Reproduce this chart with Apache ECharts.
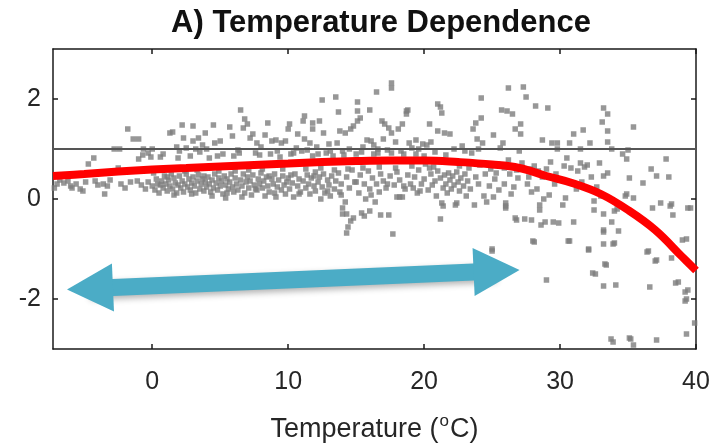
<!DOCTYPE html>
<html>
<head>
<meta charset="utf-8">
<script src="https://cdn.jsdelivr.net/npm/echarts@6/dist/echarts.min.js"></script>
<style>
  html, body { margin: 0; padding: 0; background: #fff; }
  #chart { width: 715px; height: 446px; }
</style>
</head>
<body>
<div id="chart"></div>
<script>
// axis ticks
const xTickVals = [0, 10, 20, 30, 40];
const yTickVals = [-2, 0, 2];

// fitted temperature response (red curve)
const fitTemp = [-7.3, -5, -2.5, 0, 2.5, 5, 7.5, 10, 12.5, 15, 17.5, 20, 22.5, 25, 27, 29, 31, 33, 35, 37, 39, 40];
const fitEffect = [0.46, 0.5, 0.55, 0.59, 0.62, 0.65, 0.68, 0.71, 0.74, 0.76, 0.77, 0.77, 0.74, 0.69, 0.62, 0.46, 0.31, 0.1, -0.22, -0.62, -1.16, -1.43];

// reference level (grey horizontal line)
const refLevel = 1;

// double arrow ends (temperature, effect)
const arrowTemp = [-4.58, 25.33];
const arrowEffect = [-1.79, -1.44];

// observations [temperature, effect]
const obsPoints = [
  [-7.2,0.22],[-7.0,0.3],[-6.8,0.38],[-6.5,0.32],[-6.2,0.36],[-6.0,0.26],[-5.9,0.22],[-5.6,0.3],[-5.3,0.2],[-5.1,0.16],
  [-4.9,0.34],[-4.7,0.7],[-4.3,0.82],[-4.2,0.36],[-4.0,0.28],[-3.6,0.3],[-3.5,0.1],[-3.3,0.26],[-3.1,0.38],[-2.8,1.0],
  [-2.5,0.62],[-2.4,1.0],[-2.3,0.3],[-2.0,0.22],[-1.8,1.4],[-1.6,0.34],[-1.4,1.2],[-1.1,0.36],[-1.0,1.2],[-1.0,0.8],
  [-0.8,0.28],[-0.7,0.88],[-0.65,1.0],[-0.5,0.2],[-0.3,0.92],[-0.3,0.34],[-0.1,0.84],[0.0,0.26],[0.0,1.0],
  [0.2,0.18],[0.3,0.4],[0.4,0.3],[0.5,0.12],[0.6,0.84],[0.7,0.36],[0.8,0.22],[0.9,0.46],[1.0,0.3],[1.1,0.16],[1.2,0.38],
  [1.3,1.32],[1.3,0.26],[1.4,0.5],[1.5,1.34],[1.5,0.2],[1.6,0.42],[1.7,0.32],[1.8,1.04],[1.8,0.12],[1.9,0.28],[2.0,0.46],[2.0,0.96],
  [2.1,0.22],[2.2,1.48],[2.2,0.36],[2.3,1.22],[2.3,0.14],[2.4,0.3],[2.5,0.5],[2.5,1.02],[2.6,0.24],[2.7,0.4],[2.8,0.18],[2.8,0.86],
  [2.9,0.32],[3.0,1.46],[3.0,1.16],[3.0,0.44],[3.1,0.26],[3.2,0.12],[3.2,1.0],[3.3,0.36],[3.4,1.22],[3.4,0.48],[3.5,0.2],[3.6,0.3],
  [3.7,1.08],[3.7,0.4],[3.8,0.16],[3.9,1.32],[3.9,0.34],[4.0,0.24],[4.0,1.0],
  [4.1,0.44],[4.2,0.3],[4.2,0.82],[4.3,0.14],[4.4,0.38],[4.5,1.48],[4.5,0.22],[4.6,1.12],[4.6,0.5],[4.7,0.32],[4.8,0.18],[4.9,0.42],
  [5.0,1.16],[5.0,0.26],[5.1,0.36],[5.2,0.9],[5.2,0.1],[5.3,0.46],[5.4,0.02],[5.4,0.28],[5.5,0.4],[5.6,0.2],[5.7,1.44],[5.7,0.34],
  [5.8,0.5],[5.9,1.26],[5.9,0.24],[6.0,0.14],[6.0,0.86],
  [6.1,0.42],[6.2,0.3],[6.3,0.98],[6.3,0.18],[6.5,1.78],[6.5,0.38],[6.6,0.26],[6.7,1.42],[6.7,0.5],[6.8,1.6],[6.8,0.12],[6.9,0.34],
  [7.0,1.5],[7.0,0.44],[7.1,0.22],[7.2,1.22],[7.2,0.36],[7.3,0.08],[7.4,1.3],[7.4,0.48],[7.5,0.28],[7.6,0.92],[7.7,1.12],[7.7,0.18],
  [7.8,0.4],[7.9,0.3],[8.0,0.52],[8.0,1.04],
  [8.1,0.22],[8.2,0.36],[8.3,1.28],[8.3,0.06],[8.4,0.44],[8.5,1.52],[8.5,0.26],[8.6,0.14],[8.7,0.9],[8.8,1.16],[8.8,0.4],[8.9,0.3],
  [9.0,0.12],[9.0,0.5],[9.1,1.18],[9.2,0.24],[9.3,0.38],[9.4,0.84],[9.5,1.12],[9.5,0.18],[9.6,0.46],[9.7,0.28],[9.8,1.16],[9.8,0.1],
  [9.9,0.34],[10.0,1.4],[10.0,0.42],
  [10.1,1.5],[10.1,0.2],[10.2,0.9],[10.3,0.32],[10.4,0.04],[10.5,0.5],[10.6,1.02],[10.7,1.3],[10.7,0.26],[10.8,0.4],[10.9,0.14],
  [11.0,0.96],[11.1,1.56],[11.1,0.36],[11.2,1.66],[11.2,1.2],[11.3,0.22],[11.4,0.48],[11.5,0.3],[11.6,1.12],[11.6,0.1],[11.7,0.42],
  [11.8,1.52],[11.8,1.4],[11.8,0.86],[11.9,0.26],[12.0,0.54],[12.0,0.16],
  [12.1,1.04],[12.2,0.34],[12.3,1.56],[12.3,0.44],[12.4,0.0],[12.5,1.98],[12.5,0.24],[12.6,1.32],[12.6,0.5],[12.7,0.12],[12.8,0.92],
  [12.9,0.38],[13.0,1.1],[13.0,0.28],[13.1,0.06],[13.2,0.46],[13.3,0.86],[13.4,0.2],[13.5,2.04],[13.5,0.36],[13.6,1.12],[13.7,1.74],
  [13.7,0.52],[13.8,1.36],[13.8,0.14],[13.9,0.3],[14.0,-0.18],[14.0,-0.3],[14.0,0.96],
  [14.2,1.32],[14.2,-0.06],[14.3,-0.68],[14.3,-0.3],[14.3,0.44],[14.4,-0.56],[14.5,0.22],[14.6,1.4],[14.6,-0.44],[14.7,0.58],
  [14.8,1.46],[14.8,-0.38],[14.9,0.34],[15.0,0.9],[15.1,1.94],[15.1,1.76],[15.1,1.56],[15.2,0.12],[15.3,1.62],[15.3,0.48],
  [15.4,-0.28],[15.5,1.04],[15.6,-0.34],[15.6,0.3],[15.7,0.0],[15.8,1.18],[15.9,0.56],[16.0,1.78],[16.0,0.2],[16.0,-0.24],
  [16.1,1.16],[16.2,0.42],[16.3,1.08],[16.4,-0.06],[16.5,2.14],[16.5,0.3],[16.6,0.92],[16.7,0.14],[16.8,-0.32],[16.8,0.5],
  [16.9,1.56],[17.0,1.2],[17.0,0.36],[17.1,1.5],[17.2,0.22],[17.3,0.98],[17.4,1.42],[17.4,-0.32],[17.5,0.46],[17.6,2.32],
  [17.6,2.22],[17.6,1.32],[17.7,-0.7],[17.8,0.28],[17.9,1.14],[18.0,0.04],[18.0,0.54],
  [18.1,1.4],[18.2,0.04],[18.2,0.38],[18.4,1.5],[18.4,0.04],[18.5,0.9],[18.6,0.2],[18.7,1.76],[18.7,1.7],[18.8,1.78],[18.8,0.48],
  [18.9,1.12],[19.0,0.3],[19.1,1.02],[19.2,0.22],[19.3,0.44],[19.4,1.18],[19.5,0.12],[19.6,0.58],[19.8,0.3],[19.9,1.1],[20.0,0.4],[20.0,0.86],
  [20.2,1.08],[20.3,0.18],[20.4,1.5],[20.5,1.14],[20.5,0.5],[20.6,0.28],[20.8,0.36],[20.9,0.06],[21.0,1.9],[21.0,1.36],[21.0,0.56],
  [21.2,1.84],[21.2,-0.4],[21.2,0.42],[21.3,1.72],[21.3,-0.08],[21.4,-0.14],[21.4,0.22],[21.5,1.32],[21.5,0.48],[21.6,0.3],
  [21.7,0.12],[21.8,0.52],[21.9,1.3],[21.9,0.38],[22.0,0.2],
  [22.1,0.46],[22.2,0.28],[22.3,-0.12],[22.4,0.54],[22.4,-0.08],[22.5,0.34],[22.6,0.16],[22.7,0.42],[22.8,1.06],[22.9,0.26],
  [23.0,0.5],[23.1,0.06],[23.2,0.36],[23.4,0.2],[23.5,0.92],[23.6,1.4],[23.7,-0.12],[23.8,1.52],[23.8,0.44],[23.9,1.2],[24.0,0.3],
  [24.2,2.02],[24.2,1.62],[24.3,1.12],[24.4,0.06],[24.5,0.5],[24.6,-0.06],[24.8,0.26],
  [25.0,-1.04],[25.0,-1.0],[25.1,1.28],[25.1,0.04],[25.2,0.4],[25.4,0.7],[25.5,0.18],[25.7,1.78],[25.8,1.12],[25.9,0.3],
  [26.0,-0.08],[26.0,-0.18],[26.0,-0.14],[26.1,1.76],[26.2,2.22],[26.3,0.5],[26.4,0.1],[26.5,1.7],[26.6,0.24],[26.7,1.4],
  [26.7,-0.38],[26.8,-0.42],[26.9,0.42],[27.0,0.96],[27.1,1.5],[27.1,1.3],[27.3,2.24],[27.4,-0.4],[27.5,2.04],[27.6,0.3],
  [27.8,0.6],[27.9,-0.42],[27.9,0.14],
  [28.0,-0.84],[28.1,-0.86],[28.2,1.86],[28.3,0.2],[28.5,-0.12],[28.5,-0.22],[28.6,-0.52],[28.7,1.18],[28.7,0.44],[28.8,0.0],
  [28.9,-0.46],[29.0,-1.62],[29.1,1.82],[29.2,0.08],[29.4,1.12],[29.5,-0.46],[29.6,0.3],[29.8,1.12],[29.9,-0.48],[30.0,0.4],
  [30.2,-0.12],[30.4,0.02],[30.6,-0.84],[30.7,1.12],[30.7,-0.84],[30.8,0.62],[31.0,1.3],[31.0,-0.46],
  [31.3,0.56],[31.5,0.72],[31.7,1.38],[31.8,0.64],[32.0,0.68],[32.1,-1.02],[32.1,-1.0],[32.2,1.12],[32.4,-1.48],[32.5,-0.04],
  [32.5,-0.22],[32.6,-1.5],[32.9,0.72],[33.1,1.54],[33.2,1.82],[33.2,-0.3],[33.2,0.46],[33.2,-0.62],[33.2,-0.9],[33.2,-1.74],
  [33.2,-0.66],[33.3,-1.3],[33.4,-1.32],[33.5,1.7],[33.5,1.36],[33.5,1.14],[33.5,0.52],[33.8,-0.46],[33.75,-2.8],[33.9,-0.9],[33.9,-2.86],
  [34.0,-0.24],[34.0,-0.88],[34.1,-1.72],[34.2,-0.2],[34.3,-0.64],[34.6,0.9],[34.8,0.06],[34.9,0.8],[34.9,0.1],[35.1,0.42],
  [35.1,-2.78],[35.2,-2.8],[35.4,1.44],[35.4,0.02],[35.4,-2.92],[36.1,0.32],[36.4,-1.06],[36.5,-1.04],[36.6,-1.76],[36.7,0.6],
  [36.8,-0.18],[37.0,-1.24],[37.1,0.46],[37.1,-1.22],[37.1,-2.82],[37.4,-0.08],[37.8,0.8],[38.0,0.44],[38.1,-0.14],[38.2,-0.1],
  [38.2,-1.18],[38.3,-0.32],[38.5,-1.68],[38.7,-1.66],[39.0,-0.82],[39.2,-1.86],[39.2,-2.04],[39.3,-0.8],[39.3,-2.0],[39.3,-2.7],
  [39.4,-0.18],[39.4,-1.82],[39.6,-0.18],[39.9,-2.48],
  [14.5,1.0],[16.6,1.0],[19.6,1.0],[22.2,1.0],[24.0,1.0],[25.6,1.02],[29.8,1.0],[31.5,1.0],[33.8,1.0],[35.0,0.98],
  [20.1,0.7],[20.7,0.64],[22.6,0.66],[23.3,0.62],[24.1,0.68],[24.9,0.6],[25.3,0.52],[25.9,0.62],[26.2,0.78],[26.8,0.58],
  [27.2,0.72],[27.7,0.44],[28.1,0.66],[28.4,0.56],[29.0,0.6],[29.3,0.74],[29.7,0.5],[30.3,0.66],[30.5,0.82],[31.2,0.2],
  [31.6,0.34],[32.3,0.44],[32.7,0.24],[33.0,0.06],
  [0.1,0.52],[0.6,0.28],[1.1,0.44],[1.6,0.08],[2.4,0.56],[2.9,0.1],[3.3,0.58],[3.8,0.46],[4.4,0.06],[4.9,0.56],
  [5.5,0.12],[6.1,0.56],[6.6,0.04],[7.1,0.58],[7.6,0.2],[8.1,0.6],[8.6,0.46],[9.1,0.04],[9.6,0.6],[10.2,0.48],
  [10.8,0.1],[11.3,0.6],[11.9,0.46],[12.4,0.62],[12.9,0.16],[13.4,0.58],[13.9,0.08],[14.4,0.6],[15.0,0.34],[15.5,0.62],
  [16.1,0.08],[16.7,0.64],[17.3,0.3],[17.9,0.62],[18.5,0.26],[19.1,0.66],[19.7,0.16],[20.4,0.62],
  [0.8,0.9],[1.9,0.82],[3.5,0.94],[4.8,0.86],[6.4,0.92],[7.9,0.88],[9.2,0.96],[10.4,0.92],[11.4,0.98],[12.2,0.9],
  [13.1,0.96],[14.1,0.88],[15.4,0.94],[16.3,0.9],[17.6,0.92],[18.3,0.96],[19.4,0.9],[20.8,0.94],[21.6,0.88],[23.0,0.96]
];

const fitData = fitTemp.map((t, i) => [t, fitEffect[i]]);

const myChart = echarts.init(document.getElementById('chart'));

const frameLine = { show: true, onZero: false, lineStyle: { color: '#1a1a1a', width: 1.5 } };
const tickStyle = { color: '#1a1a1a', width: 1.5 };
const labelFont = 'Liberation Sans, Arial, sans-serif';

const option = {
  backgroundColor: '#ffffff',
  animation: false,
  title: {
    text: 'A) Temperature Dependence',
    left: 376,
    textAlign: 'center',
    top: 3,
    textStyle: { fontFamily: labelFont, fontSize: 31, fontWeight: 'bold', color: '#111' }
  },
  grid: { left: 53, right: 19, top: 49, bottom: 97, outerBoundsMode: 'none' },
  xAxis: [
    {
      type: 'value', min: -7.3, max: 40,
      axisLine: frameLine,
      axisTick: { inside: true, length: 5, customValues: xTickVals, lineStyle: tickStyle },
      axisLabel: { customValues: xTickVals, margin: 21, fontFamily: labelFont, fontSize: 25, color: '#262626' },
      splitLine: { show: false },
      name: '{a|Temperature (}{s|o}{a|C)}',
      nameLocation: 'middle',
      nameGap: 64,
      nameTextStyle: {
        rich: {
          a: { fontFamily: labelFont, fontSize: 27, color: '#262626' },
          s: { fontFamily: labelFont, fontSize: 17, color: '#262626', padding: [0, 1, 16, 1] }
        }
      }
    },
    {
      type: 'value', min: -7.3, max: 40, position: 'top',
      axisLine: frameLine,
      axisTick: { inside: true, length: 5, customValues: xTickVals, lineStyle: tickStyle },
      axisLabel: { show: false },
      splitLine: { show: false }
    }
  ],
  yAxis: [
    {
      type: 'value', min: -3, max: 3,
      axisLine: frameLine,
      axisTick: { inside: true, length: 5, customValues: yTickVals, lineStyle: tickStyle },
      axisLabel: { customValues: yTickVals, margin: 12, fontFamily: labelFont, fontSize: 25, color: '#262626' },
      splitLine: { show: false }
    },
    {
      type: 'value', min: -3, max: 3, position: 'right',
      axisLine: frameLine,
      axisTick: { inside: true, length: 5, customValues: yTickVals, lineStyle: tickStyle },
      axisLabel: { show: false },
      splitLine: { show: false }
    }
  ],
  series: [
    {
      name: 'obs',
      type: 'scatter',
      data: obsPoints,
      symbol: 'rect',
      symbolSize: 5.5,
      itemStyle: { color: '#7d7d7d' },
      silent: true,
      markLine: {
        silent: true,
        symbol: 'none',
        label: { show: false },
        lineStyle: { color: '#555555', width: 2, type: 'solid' },
        data: [{ yAxis: refLevel }]
      }
    },
    {
      name: 'fit',
      type: 'line',
      data: fitData,
      smooth: 0.4,
      showSymbol: false,
      lineStyle: { color: '#ff0000', width: 8 },
      z: 3,
      markLine: {
        silent: true,
        symbol: ['triangle', 'triangle'],
        symbolSize: [48, 46],
        label: { show: false },
        lineStyle: {
          color: '#4bacc6', width: 17, type: 'solid', opacity: 1,
          shadowBlur: 6, shadowColor: 'rgba(0,0,0,0.3)', shadowOffsetY: 3
        },
        data: [[
          { coord: [arrowTemp[0], arrowEffect[0]] },
          { coord: [arrowTemp[1], arrowEffect[1]] }
        ]]
      }
    }
  ]
};

myChart.setOption(option);
</script>
</body>
</html>
